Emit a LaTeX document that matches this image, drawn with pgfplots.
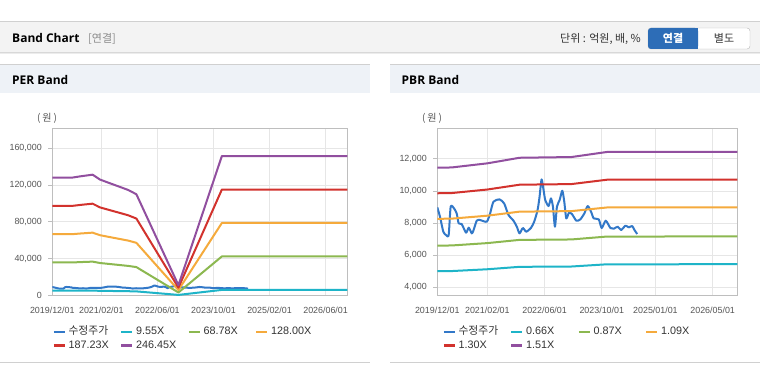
\documentclass[border=0pt]{standalone}
\usepackage{fontspec}
\setmainfont{Liberation Sans}
\newfontfamily\kr{Noto Sans CJK KR}
\newfontfamily\hd{Open Sans}
\usepackage{pgfplots}
\usepackage{pgfplotstable}
\pgfplotsset{compat=1.18}

\definecolor{cPrice}{HTML}{3278C8}
\definecolor{cTeal}{HTML}{1EB4C8}
\definecolor{cGreen}{HTML}{8CB850}
\definecolor{cOrange}{HTML}{F5AA3C}
\definecolor{cRed}{HTML}{D2322D}
\definecolor{cPurple}{HTML}{914F9F}
\definecolor{gridc}{HTML}{E6E6E6}
\definecolor{axisc}{HTML}{BEBEBE}
\definecolor{tickc}{HTML}{555555}
\definecolor{legc}{HTML}{333333}
\definecolor{hdrbg}{HTML}{F3F3F3}
\definecolor{panbg}{HTML}{EEF2F7}
\definecolor{linec}{HTML}{D0D0D0}
\definecolor{shadc}{HTML}{D8D8D8}
\definecolor{shadc2}{HTML}{ECECEC}
\definecolor{bracc}{HTML}{8A8A8A}
\definecolor{btnbord}{HTML}{B9B9B9}
\definecolor{btnblue}{HTML}{2D6DB7}

% monthly x: months since 2019/12
\pgfplotstableread{
m p
0 8975
0.75 8395
1.68 7462
2.43 7255
3.18 7255
3.74 9017
4.67 8913
5.42 8600
5.98 7980
6.82 7939
8.04 7400
8.79 7711
9.63 7358
10.09 7524
11.03 8146
11.96 8188
13.83 8084
14.77 8600
15.70 9328
17.38 9473
18.69 9224
19.91 8498
21.31 8146
22.24 7773
22.99 7358
23.93 7690
24.86 7462
26.17 7690
27.10 8084
28.04 8810
28.60 9639
29.16 10717
29.72 10054
30.19 9431
31.12 9058
31.78 9535
32.34 9017
32.90 7773
33.46 9017
34.21 9431
34.95 10012
35.51 9328
36.07 8291
36.82 8644
37.66 8560
38.88 8146
40.00 8229
41.12 8600
42.06 9058
43.00 8706
43.74 8291
45.14 8229
45.98 7690
47.10 8146
48.41 7690
49.35 7648
50.47 7773
51.40 7566
52.62 7835
53.55 7731
54.49 7814
55.14 7566
55.89 7317
}\price

\pgfplotstableread{
m a b c d e
0 4960 35724 66483 97248 128006
5.5 4960 35724 66483 97248 128006
8 5019 36144 67264 98390 129510
11.5 5088 36646 68198 99756 131309
13.6 4883 35167 65446 95731 126010
16.5 4723 34019 63309 92604 121894
19.3 4573 32932 61286 89646 118000
21.7 4441 31983 59520 87062 114599
24 4262 30697 57126 83561 109991
36 426 3068 5709 8350 10992
48.4 5874 42307 78733 115165 151591
84.2 5874 42307 78733 115165 151591
}\perband

\pgfplotstableread{
m a b c d e
0 5003 6595 8262 9854 11446
4 5009 6603 8273 9867 11461
14 5122 6751 8458 10088 11718
23 5273 6951 8709 10387 12065
37.5 5293 6977 8742 10426 12110
47.5 5432 7160 8971 10699 12427
83.9 5435 7164 8976 10706 12435
}\pbrband

\pgfplotsset{
  bandaxis/.style={
    scale only axis,
    height=167pt,
    axis line style={axisc},
    grid=major,
    major grid style={gridc, line width=0.7pt},
    tick label style={font=\fontsize{8.9}{10}\selectfont, text=tickc},
    scaled y ticks=false,
    ytick pos=left,
    ytick style={axisc, line width=0.7pt},
    xtick style={draw=none},
    tick align=outside,
    major tick length=4pt,
    every x tick label/.append style={yshift=-4pt},
    every y tick label/.append style={xshift=-3pt},
    legend columns=4,
    legend cell align=left,
    legend image code/.code={\draw[##1, line width=2.5pt] (0pt,0pt) -- (10.6pt,0pt);},
    legend style={draw=none, fill=none, inner sep=0pt, outer sep=0pt,
      anchor=north west,
      font=\fontsize{10.8}{12}\selectfont, text=legc,
      nodes={text width=49pt, inner xsep=2.7pt, inner ysep=1.5pt, text height=8pt, text depth=2.5pt, align=left},
      /tikz/every odd column/.style={column sep=0pt},
      /tikz/every even column/.style={column sep=0pt}},
    every axis plot/.append style={line width=2pt, line join=round, no markers},
    /pgf/number format/fixed,
    /pgf/number format/1000 sep={,},
    /pgf/number format/assume math mode=true,
  }
}

\begin{document}
\begin{tikzpicture}
\useasboundingbox (0,0) rectangle (760pt,364pt);
\fill[white] (0,0) rectangle (760pt,364pt);

% top header
\fill[hdrbg] (0,311pt) rectangle (760pt,342pt);
\draw[linec, line width=1pt] (0,342pt) -- (760pt,342pt);
\draw[shadc, line width=1pt] (0,311pt) -- (760pt,311pt);
\draw[shadc2, line width=1pt] (0,310pt) -- (760pt,310pt);
\node[anchor=base west, inner sep=0pt, font=\hd\bfseries\fontsize{12}{14}\selectfont] at (12pt,321.7pt) {Band Chart};
\node[anchor=base west, inner sep=0pt, font=\kr\fontsize{11}{13}\selectfont, text=bracc] at (88pt,321.7pt) {[연결]};
\node[anchor=base east, inner sep=0pt, font=\kr\fontsize{11}{13}\selectfont, text=legc] at (641pt,321.7pt) {단위 : 억원, 배, \%};
% buttons
\draw[fill=white, draw=btnbord, rounded corners=3pt] (648pt,315pt) rectangle (750pt,336pt);
\fill[btnblue, rounded corners=3pt] (648pt,315pt) rectangle (698pt,336pt);
\fill[btnblue] (690pt,315pt) rectangle (698pt,336pt);
\node[font=\kr\bfseries\fontsize{11}{13}\selectfont, text=white] at (673pt,325.5pt) {연결};
\node[font=\kr\fontsize{11}{13}\selectfont, text=legc] at (724pt,325.5pt) {별도};

% panel headers
\fill[panbg] (0,271.3pt) rectangle (369.5pt,299.3pt);
\fill[panbg] (390pt,271.3pt) rectangle (760pt,299.3pt);
\draw[linec, line width=1pt] (0,299.7pt) -- (369.5pt,299.7pt);
\draw[linec, line width=1pt] (390pt,299.7pt) -- (760pt,299.7pt);
\node[anchor=base west, inner sep=0pt, font=\hd\bfseries\fontsize{12}{14}\selectfont] at (12pt,279.7pt) {PER Band};
\node[anchor=base west, inner sep=0pt, font=\hd\bfseries\fontsize{12}{14}\selectfont] at (401.5pt,279.7pt) {PBR Band};
% bottom lines
\draw[linec, line width=1.2pt] (0,1.5pt) -- (369.5pt,1.5pt);
\draw[linec, line width=1.2pt] (390pt,1.5pt) -- (760pt,1.5pt);

% unit labels
\node[font=\kr\fontsize{10}{12}\selectfont, text=tickc] at (47pt,245.7pt) {(\kern2pt 원\kern2pt)};
\node[font=\kr\fontsize{10}{12}\selectfont, text=tickc] at (432pt,245.7pt) {(\kern2pt 원\kern2pt)};

% PER axis
\begin{axis}[bandaxis,
  at={(52.3pt,68.7pt)}, anchor=south west,
  width=295pt,
  xmin=0, xmax=84.2, ymin=0, ymax=181800,
  xtick={0,14,30,46,62,78},
  xticklabels={2019/12/01,2021/02/01,2022/06/01,2023/10/01,2025/02/01,2026/06/01},
  ytick={0,40000,80000,120000,160000},
  legend style={at={(0.0014,-0.178)}},
]
\addplot[cPrice, smooth, tension=0.4] table[x=m,y=p] {\price}; \addlegendentry{\kr 수정주가}
\addplot[cTeal] table[x=m,y=a] {\perband}; \addlegendentry{9.55X}
\addplot[cGreen] table[x=m,y=b] {\perband}; \addlegendentry{68.78X}
\addplot[cOrange] table[x=m,y=c] {\perband}; \addlegendentry{128.00X}
\addplot[cRed] table[x=m,y=d] {\perband}; \addlegendentry{187.23X}
\addplot[cPurple] table[x=m,y=e] {\perband}; \addlegendentry{246.45X}
\end{axis}

% PBR axis
\begin{axis}[bandaxis,
  at={(437.3pt,68.7pt)}, anchor=south west,
  width=300pt,
  xmin=0, xmax=83.9, ymin=3500, ymax=13900,
  xtick={0,14,30,46,61,77},
  xticklabels={2019/12/01,2021/02/01,2022/06/01,2023/10/01,2025/01/01,2026/05/01},
  ytick={4000,6000,8000,10000,12000},
  legend style={at={(0.018,-0.178)}},
]
\addplot[cPrice, smooth, tension=0.4] table[x=m,y=p] {\price}; \addlegendentry{\kr 수정주가}
\addplot[cTeal] table[x=m,y=a] {\pbrband}; \addlegendentry{0.66X}
\addplot[cGreen] table[x=m,y=b] {\pbrband}; \addlegendentry{0.87X}
\addplot[cOrange] table[x=m,y=c] {\pbrband}; \addlegendentry{1.09X}
\addplot[cRed] table[x=m,y=d] {\pbrband}; \addlegendentry{1.30X}
\addplot[cPurple] table[x=m,y=e] {\pbrband}; \addlegendentry{1.51X}
\end{axis}
\end{tikzpicture}
\end{document}
